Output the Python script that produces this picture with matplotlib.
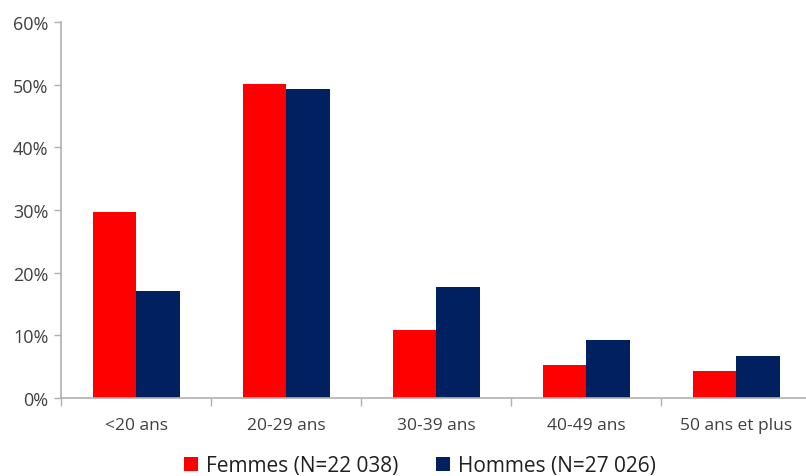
import numpy as np
import matplotlib.pyplot as plt
from matplotlib.ticker import FixedLocator

plt.rcParams['font.family'] = ['Open Sans', 'DejaVu Sans']

categories = ['<20 ans', '20-29 ans', '30-39 ans', '40-49 ans', '50 ans et plus']
femmes = [29.7, 50.1, 10.9, 5.2, 4.3]
hommes = [17.1, 49.3, 17.7, 9.2, 6.7]
series_labels = ['Femmes (N=22 038)', 'Hommes (N=27 026)']
yticks = [0, 10, 20, 30, 40, 50, 60]

W, H = 806, 477
fig = plt.figure(figsize=(W / 100, H / 100), dpi=100)
x0, x1 = 61, 811
y0, y1 = 398.7, 23.3
ax = fig.add_axes([x0 / W, 1 - y0 / H, (x1 - x0) / W, (y0 - y1) / H])

x = np.arange(len(categories))
bw = 0.29
b1 = ax.bar(x - bw / 2, femmes, bw, color='#ff0000', label=series_labels[0])
b2 = ax.bar(x + bw / 2, hommes, bw, color='#002060', label=series_labels[1])

ax.set_xlim(-0.5, len(categories) - 0.5)
ax.set_ylim(0, 60)
ax.set_yticks(yticks)
ax.set_yticklabels([f'{v}%' for v in yticks])

ax.set_xticks(x)
ax.set_xticklabels(categories)
ax.xaxis.set_minor_locator(FixedLocator(np.arange(-0.5, len(categories), 1.0)))
ax.tick_params(axis='x', which='major', length=0, pad=14, labelsize=12.5, labelcolor='#404040')
ax.tick_params(axis='x', which='minor', length=6, color='#b0b0b0', width=1)
ax.tick_params(axis='y', length=5, color='#b0b0b0', width=1, pad=4,
               labelsize=13, labelcolor='#404040')

for side in ['top', 'right']:
    ax.spines[side].set_visible(False)
for side in ['left', 'bottom']:
    ax.spines[side].set_color('#b0b0b0')
    ax.spines[side].set_linewidth(1.2)

fig.legend(handles=[b1, b2], labels=series_labels, loc='center',
           bbox_to_anchor=(420 / W, 1 - 467 / H), ncol=2, frameon=False,
           fontsize=15, handlelength=0.65, handleheight=0.65,
           handletextpad=0.4, columnspacing=1.8, labelcolor='#202020')

fig.savefig('out.png', dpi=100)
